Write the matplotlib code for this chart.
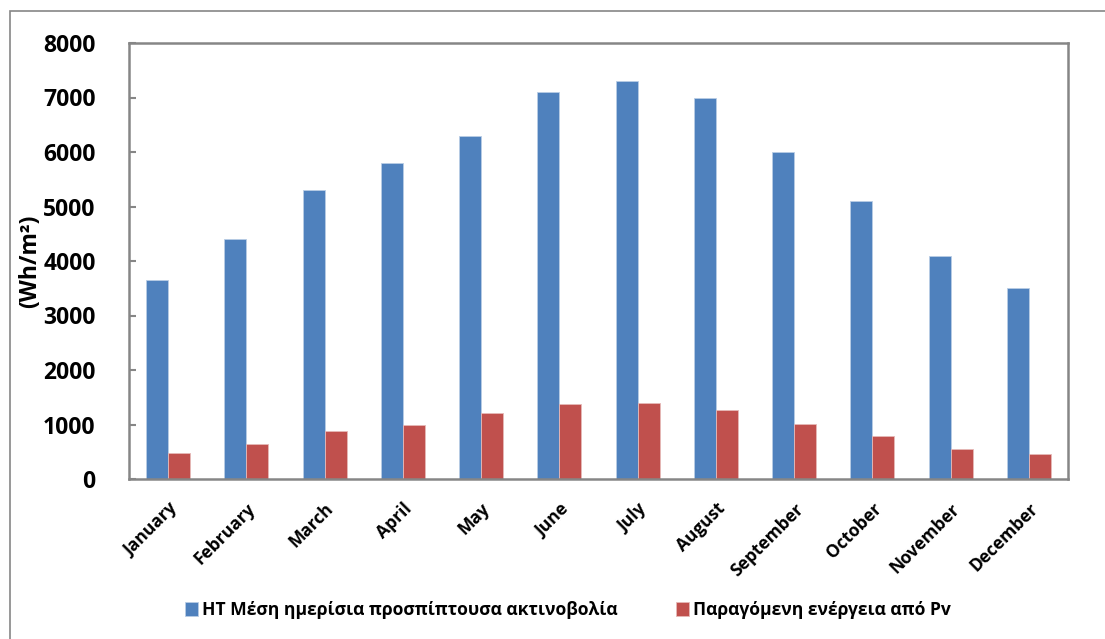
import matplotlib
matplotlib.use("Agg")
import matplotlib.pyplot as plt
import numpy as np
from matplotlib.patches import Rectangle

plt.rcParams['font.family'] = ['Open Sans', 'Noto Sans', 'DejaVu Sans']

months = ["January", "February", "March", "April", "May", "June", "July",
          "August", "September", "October", "November", "December"]
radiation = [3650, 4400, 5300, 5800, 6300, 7100, 7300, 7000, 6000, 5100, 4100, 3500]
pv_energy = [480, 650, 875, 990, 1205, 1380, 1400, 1270, 1010, 780, 545, 450]
yticks = [0, 1000, 2000, 3000, 4000, 5000, 6000, 7000, 8000]
label_rad = "HT Μέση ημερίσια προσπίπτουσα ακτινοβολία"
label_pv = "Παραγόμενη ενέργεια από Pv"

W, H = 1105, 639
fig = plt.figure(figsize=(W / 100, H / 100), dpi=100)
ax = fig.add_axes([129 / W, 1 - 479 / H, (1068 - 129) / W, (479 - 43) / H])

x = np.arange(len(months))
bw = 0.28
blue = "#4F81BD"
red = "#C0504D"
b1 = ax.bar(x - bw / 2, radiation, bw, color=blue, edgecolor="#B9CDE5", linewidth=0.6, label=label_rad)
b2 = ax.bar(x + bw / 2, pv_energy, bw, color=red, edgecolor="#E6B9B8", linewidth=0.6, label=label_pv)

ax.set_xlim(-0.5, len(months) - 0.5)
ax.set_ylim(0, 8000)
ax.set_yticks(yticks)
ax.set_yticklabels([str(v) for v in yticks], fontsize=16.5, fontweight="bold")
ax.set_xticks(x)
ax.set_xticklabels(months, rotation=45, ha="right", rotation_mode="anchor",
                   fontsize=12.5, fontweight="bold")
ax.tick_params(axis="x", length=0, pad=15)
ax.tick_params(axis="y", direction="in", length=5, width=1.5, color="#868686", pad=24)
for s in ax.spines.values():
    s.set_color("#868686")
    s.set_linewidth(1.8)

ax.set_ylabel("(Wh/m²)", fontsize=16.5, fontweight="bold")
ax.yaxis.set_label_coords(-0.092, 0.5)

fig.legend(handles=[b1, b2], labels=[label_rad, label_pv], loc="center",
           bbox_to_anchor=(0.514, 1 - 610 / H), ncol=2, frameon=False,
           prop={"weight": "bold", "size": 12.6}, handlelength=0.75, handleheight=0.8,
           handletextpad=0.25, columnspacing=3.3)

fig.patches.append(Rectangle((10 / W, -0.1), 1.2, 1 - 11 / H + 0.1, transform=fig.transFigure,
                             fill=False, edgecolor="#868686", linewidth=1.2))

fig.savefig("out.png", dpi=100)
